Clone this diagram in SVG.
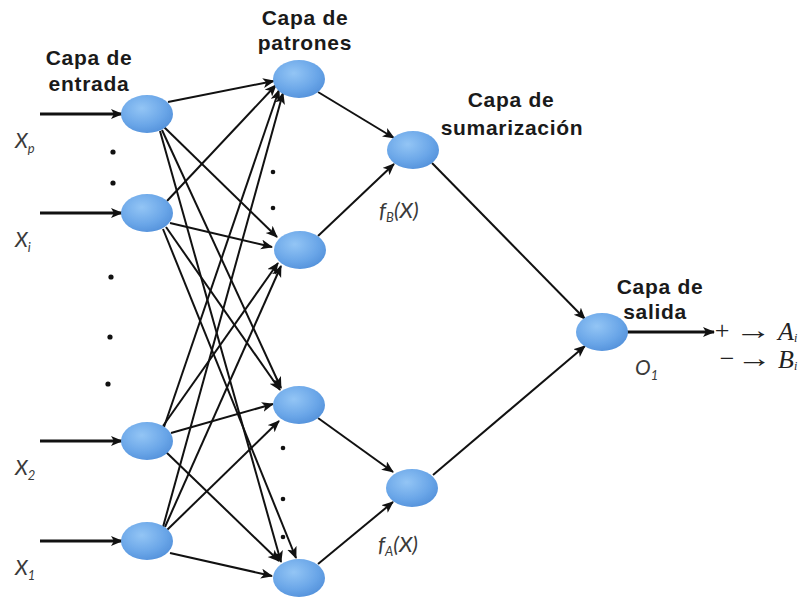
<svg xmlns="http://www.w3.org/2000/svg" width="809" height="598" viewBox="0 0 809 598">
<defs>
<radialGradient id="nodeFill" cx="0.4" cy="0.35" r="0.75">
<stop offset="0" stop-color="#93c5f5"/>
<stop offset="0.6" stop-color="#6aa6e8"/>
<stop offset="1" stop-color="#4f8dd8"/>
</radialGradient>
<filter id="soft" x="-20%" y="-20%" width="140%" height="140%">
<feGaussianBlur stdDeviation="0.7"/>
</filter>
<marker id="ah" markerUnits="userSpaceOnUse" markerWidth="14" markerHeight="12" refX="11" refY="5" orient="auto">
<path d="M0,0 L12,5 L0,10 L3,5 z" fill="#111"/>
</marker>
</defs>
<style>
.node ellipse{fill:url(#nodeFill);filter:url(#soft);}
.conn line{stroke:#111;stroke-width:2;marker-end:url(#ah);}
.conn line.thick{stroke-width:3;}
.lbl{font-family:"Liberation Sans",Arial,sans-serif;font-weight:bold;font-size:21px;letter-spacing:0.7px;fill:#1a1a1a;text-anchor:middle;}
.var{font-family:Lato,"Open Sans",sans-serif;font-style:italic;font-size:21px;fill:#3a3a3a;}
.fx{font-size:22px;}
.sub{font-size:13px;}
.msub{font-size:12px;}
.math{font-family:"Liberation Serif","DejaVu Serif",serif;font-size:26px;fill:#222;}
.mi{font-style:italic;}
.dot{fill:#111;}
</style>
<rect width="809" height="598" fill="#ffffff"/>

<g id="connectors" class="conn">
<line class="thick" x1="40" y1="114" x2="122" y2="114"/>
<line class="thick" x1="40" y1="213" x2="122" y2="213"/>
<line class="thick" x1="40" y1="441" x2="122" y2="441"/>
<line class="thick" x1="40" y1="541" x2="122" y2="541"/>

<line x1="168" y1="102" x2="274" y2="81"/>
<line x1="164" y1="127" x2="277" y2="237"/>
<line x1="162" y1="130" x2="281" y2="388"/>
<line x1="160" y1="131" x2="281" y2="562"/>

<line x1="167" y1="201" x2="276" y2="85"/>
<line x1="170" y1="223" x2="272" y2="247"/>
<line x1="166" y1="227" x2="280" y2="390"/>
<line x1="163" y1="229" x2="296" y2="558"/>

<line x1="164" y1="427" x2="279" y2="90"/>
<line x1="163" y1="426" x2="278" y2="263"/>
<line x1="171" y1="433" x2="273" y2="404"/>
<line x1="166" y1="452" x2="279" y2="561"/>

<line x1="163" y1="527" x2="283" y2="93"/>
<line x1="165" y1="527" x2="281" y2="266"/>
<line x1="167" y1="530" x2="279" y2="421"/>
<line x1="170" y1="553" x2="272" y2="576"/>

<line x1="318" y1="92" x2="394" y2="138"/>
<line x1="318" y1="236" x2="394" y2="164"/>
<line x1="318" y1="418" x2="393" y2="472"/>
<line x1="318" y1="564" x2="393" y2="502"/>

<line x1="432" y1="163" x2="585" y2="319"/>
<line x1="433" y1="475" x2="585" y2="346"/>

<line class="thick" x1="627" y1="332" x2="714" y2="332"/>
</g>

<g id="in_p" class="node"><ellipse cx="147" cy="114" rx="26" ry="19"/></g>
<g id="in_i" class="node"><ellipse cx="147" cy="213" rx="26" ry="19"/></g>
<g id="in_2" class="node"><ellipse cx="147" cy="441" rx="26" ry="19"/></g>
<g id="in_1" class="node"><ellipse cx="147" cy="541" rx="26" ry="19"/></g>

<g id="pat_1" class="node"><ellipse cx="299" cy="79" rx="26" ry="19"/></g>
<g id="pat_2" class="node"><ellipse cx="300" cy="250" rx="26" ry="19"/></g>
<g id="pat_3" class="node"><ellipse cx="299" cy="405" rx="26" ry="19"/></g>
<g id="pat_4" class="node"><ellipse cx="299" cy="578" rx="26" ry="19"/></g>

<g id="sum_B" class="node"><ellipse cx="413" cy="150" rx="26" ry="19"/></g>
<g id="sum_A" class="node"><ellipse cx="412" cy="488" rx="26" ry="19"/></g>

<g id="out" class="node"><ellipse cx="602" cy="332" rx="26" ry="19"/></g>

<g id="dots">
<circle class="dot" cx="113" cy="152" r="2.6"/>
<circle class="dot" cx="113" cy="183" r="2.6"/>
<circle class="dot" cx="111" cy="277" r="2.6"/>
<circle class="dot" cx="110" cy="337" r="2.6"/>
<circle class="dot" cx="108" cy="384" r="2.6"/>
<circle class="dot" cx="273" cy="172" r="2.3"/>
<circle class="dot" cx="273" cy="208" r="2.3"/>
<circle class="dot" cx="283" cy="448" r="2.3"/>
<circle class="dot" cx="283" cy="499" r="2.3"/>
<circle class="dot" cx="283" cy="537" r="2.3"/>
</g>

<g id="labels">
<text class="lbl" x="89" y="65">Capa de</text>
<text class="lbl" x="89" y="91">entrada</text>
<text class="lbl" x="305" y="25">Capa de</text>
<text class="lbl" x="305" y="50">patrones</text>
<text class="lbl" x="511" y="107">Capa de</text>
<text class="lbl" x="512" y="135">sumarización</text>
<text class="lbl" x="660" y="294">Capa de</text>
<text class="lbl" x="655" y="319">salida</text>

<text class="var" x="15" y="148">X<tspan class="sub" dy="5">p</tspan></text>
<text class="var" x="15" y="247">X<tspan class="sub" dy="5">i</tspan></text>
<text class="var" x="15" y="475">X<tspan class="sub" dy="5">2</tspan></text>
<text class="var" x="15" y="575">X<tspan class="sub" dy="5">1</tspan></text>

<text class="var fx" x="379" y="218">f<tspan class="sub" dy="4">B</tspan><tspan dy="-4">(X)</tspan></text>
<text class="var fx" x="378" y="552">f<tspan class="sub" dy="4">A</tspan><tspan dy="-4">(X)</tspan></text>
<text class="var" x="635" y="375">O<tspan class="sub" dy="5">1</tspan></text>

<text class="math" x="722" y="339" text-anchor="middle">+</text>
<text class="math" x="735" y="339" textLength="37" lengthAdjust="spacingAndGlyphs">→</text>
<text class="math mi" x="778" y="340">A<tspan class="msub" dy="2">i</tspan></text>
<text class="math" x="727" y="367" text-anchor="middle">−</text>
<text class="math" x="737" y="367" textLength="35" lengthAdjust="spacingAndGlyphs">→</text>
<text class="math mi" x="778" y="368">B<tspan class="msub" dy="2">i</tspan></text>
</g>
</svg>
